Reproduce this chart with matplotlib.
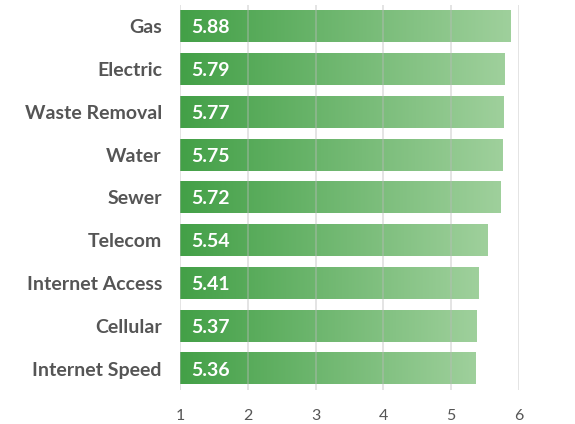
import numpy as np
import matplotlib.pyplot as plt
from matplotlib.colors import LinearSegmentedColormap

# Data
categories = ['Gas', 'Electric', 'Waste Removal', 'Water', 'Sewer',
              'Telecom', 'Internet Access', 'Cellular', 'Internet Speed']
scores = [5.88, 5.79, 5.77, 5.75, 5.72, 5.54, 5.41, 5.37, 5.36]
xticks = [1, 2, 3, 4, 5, 6]

plt.rcParams['font.family'] = ['Lato', 'DejaVu Sans']

fig = plt.figure(figsize=(5.75, 4.24), dpi=100)
ax = fig.add_axes([180 / 575, 1 - 390 / 424, (519 - 180) / 575, 385 / 424])

cmap = LinearSegmentedColormap.from_list('grn', ['#43a047', '#9fd09c'])
grad = np.linspace(0, 1, 256).reshape(1, -1)
h = 0.74
for i, v in enumerate(scores):
    ax.imshow(grad, cmap=cmap, aspect='auto', extent=[1, v, i + h / 2, i - h / 2],
              zorder=1, interpolation='bilinear')
    ax.annotate(f'{v:.2f}', xy=(1, i), xytext=(8, -1), textcoords='offset points',
                ha='left', va='center', color='white', fontsize=14,
                fontweight='bold', zorder=3)

ax.set_xlim(1, 6)
ax.set_ylim(len(categories) - 0.5, -0.5)
ax.set_xticks(xticks)
ax.set_yticks(range(len(categories)))
ax.set_yticklabels(categories, fontsize=14, fontweight='bold', color='#555555')
ax.tick_params(axis='y', length=0, pad=13)
ax.tick_params(axis='x', length=0, pad=14, labelsize=11.5, labelcolor='#555555')
ax.xaxis.grid(True, color='#bbbbbb', alpha=0.4, linewidth=1.4, zorder=2)
ax.set_axisbelow(False)
for s in ax.spines.values():
    s.set_visible(False)

plt.savefig('out.png', dpi=100)
